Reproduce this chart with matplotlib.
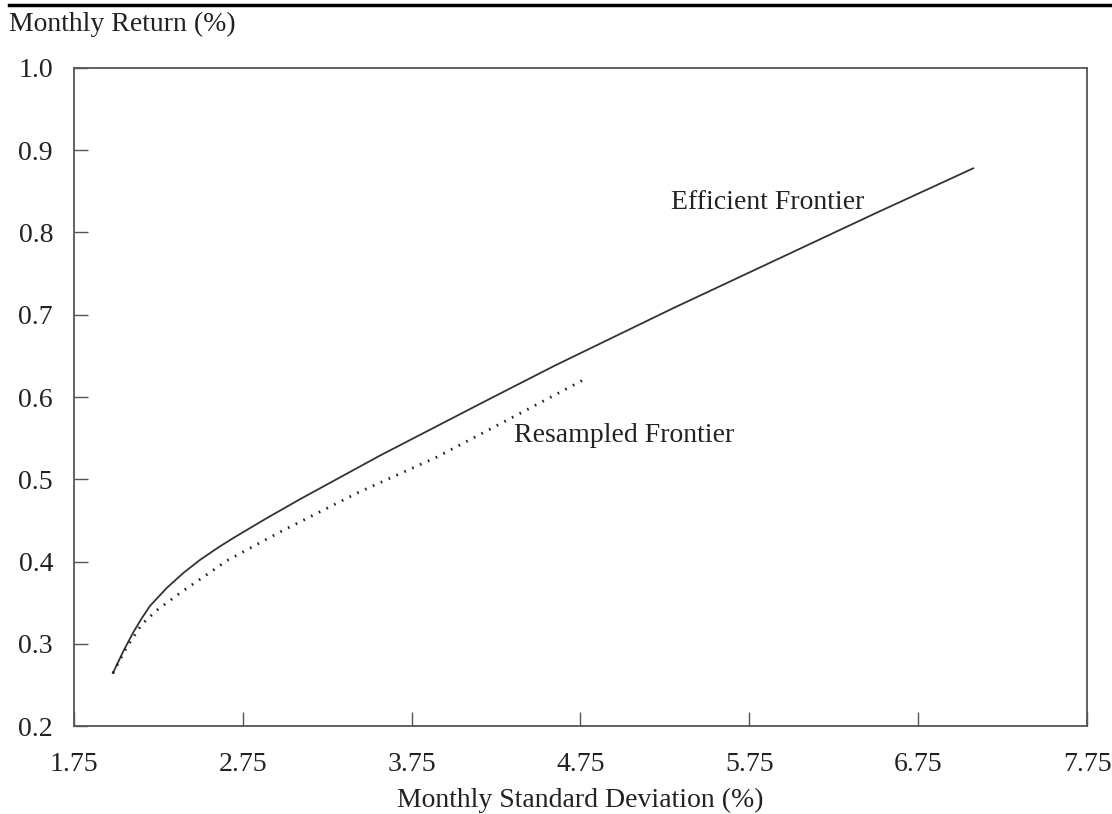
import matplotlib.pyplot as plt
from matplotlib.lines import Line2D

# Dados
ef_x = [1.981, 2.040, 2.100, 2.150, 2.200, 2.301, 2.400, 2.496, 2.600, 2.692, 2.893, 3.089, 3.563,
        4.155, 4.511, 4.600, 5.299, 5.891, 6.483, 7.076]
ef_y = [0.2644, 0.2900, 0.3135, 0.3305, 0.3460, 0.3682, 0.3865, 0.4019, 0.4165, 0.4284, 0.4529, 0.4758, 0.5289,
        0.5917, 0.6291, 0.6384, 0.7080, 0.7650, 0.8220, 0.878]

rs_x = [1.981, 2.060, 2.153, 2.242, 2.378, 2.662, 2.970, 3.427, 3.900, 4.351, 4.777]
rs_y = [0.2644, 0.2950, 0.3240, 0.3410, 0.3617, 0.4018, 0.4359, 0.4833, 0.5271, 0.5757, 0.6219]

xticks = [1.75, 2.75, 3.75, 4.75, 5.75, 6.75, 7.75]
yticks = [0.2, 0.3, 0.4, 0.5, 0.6, 0.7, 0.8, 0.9, 1.0]

plt.rcParams['font.family'] = ['Liberation Serif', 'DejaVu Serif']

fig = plt.figure(figsize=(11.12, 8.14), dpi=100)
ax = fig.add_axes([0.0665, 0.108, 0.911, 0.8085])

ax.plot(ef_x, ef_y, color='#333333', lw=1.3)
ax.plot(rs_x, rs_y, color='#222222', lw=2.0, linestyle=(0, (0.6, 2.5)))

ax.text(5.86, 0.836, 'Efficient Frontier', fontsize=20, ha='center', va='center', color='#222222')
ax.text(4.357, 0.553, 'Resampled Frontier', fontsize=20, ha='left', va='center', color='#222222')

ax.set_xlim(1.75, 7.75)
ax.set_ylim(0.2, 1.0)
ax.set_xticks(xticks)
ax.set_xticklabels([f'{t:.2f}' for t in xticks])
ax.set_yticks(yticks)
ax.set_yticklabels([f'{t:.1f}' for t in yticks])
ax.tick_params(direction='in', length=10, width=1.0, color='#555555', labelsize=20,
               labelcolor='#222222')
ax.tick_params(axis='x', pad=19)
ax.tick_params(axis='y', pad=15)
for s in ax.spines.values():
    s.set_color('#555555')
    s.set_linewidth(1.3)

fig.text(0.5215, 0.017, 'Monthly Standard Deviation (%)', fontsize=20, ha='center', va='center', color='#222222')
fig.text(0.008, 0.970, 'Monthly Return (%)', fontsize=20, ha='left', va='center', color='#222222')

# linha preta no topo
fig.add_artist(Line2D([0.008, 1.0], [0.9935, 0.9935], color='black', lw=2.5))

fig.savefig('out.png', dpi=100)
